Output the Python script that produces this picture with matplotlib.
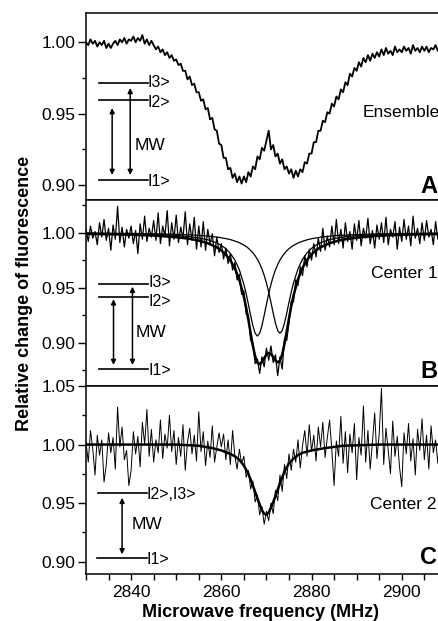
"""ODMR spectra of the ensemble and of two single centres (three stacked panels)."""

import matplotlib

matplotlib.use("Agg")
import matplotlib.pyplot as plt
import numpy as np
from matplotlib.ticker import FixedLocator, MultipleLocator

plt.rcParams["font.family"] = ["Liberation Sans", "DejaVu Sans"]

FREQ_START = 2830.0   # MHz, first sample of the traces
FREQ_STEP = 0.5       # MHz between samples

# measured traces, one row = 5 MHz (10 samples)
ensemble = [
    1.000, 0.998, 1.002, 0.999, 1.001, 0.997, 1.000, 0.998, 1.001, 0.996,
    0.999, 0.996, 0.999, 1.001, 0.998, 1.002, 1.000, 1.003, 0.999, 1.002,
    1.001, 1.004, 1.000, 1.003, 1.001, 1.005, 0.999, 1.002, 0.998, 1.001,
    0.998, 0.995, 0.997, 0.993, 0.995, 0.991, 0.993, 0.989, 0.991, 0.987,
    0.988, 0.984, 0.985, 0.980, 0.980, 0.974, 0.976, 0.970, 0.971, 0.965,
    0.965, 0.959, 0.960, 0.953, 0.954, 0.946, 0.947, 0.939, 0.938, 0.929,
    0.928, 0.919, 0.919, 0.911, 0.912, 0.905, 0.908, 0.902, 0.906, 0.901,
    0.906, 0.902, 0.909, 0.906, 0.913, 0.911, 0.920, 0.918, 0.926, 0.924,
    0.931, 0.938, 0.925, 0.928, 0.920, 0.922, 0.915, 0.918, 0.911, 0.913,
    0.908, 0.911, 0.905, 0.910, 0.906, 0.911, 0.909, 0.916, 0.915, 0.922,
    0.922, 0.930, 0.930, 0.938, 0.938, 0.945, 0.944, 0.951, 0.950, 0.957,
    0.955, 0.962, 0.960, 0.967, 0.965, 0.972, 0.970, 0.978, 0.976, 0.982,
    0.980, 0.986, 0.983, 0.989, 0.986, 0.991, 0.987, 0.992, 0.989, 0.993,
    0.990, 0.995, 0.991, 0.996, 0.992, 0.994, 0.991, 0.997, 0.993, 0.995,
    0.993, 0.997, 0.994, 0.996, 0.992, 0.998, 0.994, 0.996, 0.993, 0.997,
    0.994, 0.997, 0.993, 0.996, 0.995, 0.998, 0.994, 0.996, 0.993, 0.996,
]

center1 = [
    1.003, 0.992, 1.006, 0.995, 1.001, 0.989, 1.009, 0.996, 1.012, 0.993,
    1.004, 0.984, 1.007, 0.994, 1.024, 0.991, 1.005, 0.987, 1.003, 0.995,
    1.006, 0.990, 1.002, 0.981, 1.008, 0.994, 1.015, 0.992, 1.004, 0.996,
    1.011, 0.993, 1.018, 0.990, 1.006, 0.997, 1.020, 0.988, 1.009, 0.994,
    1.016, 0.991, 1.005, 0.995, 1.019, 0.989, 1.008, 0.993, 1.014, 0.985,
    1.006, 0.987, 1.010, 0.984, 1.003, 0.990, 0.999, 0.979, 0.996, 0.982,
    0.990, 0.976, 0.986, 0.972, 0.981, 0.966, 0.973, 0.957, 0.962, 0.944,
    0.947, 0.926, 0.925, 0.902, 0.899, 0.881, 0.885, 0.872, 0.887, 0.878,
    0.895, 0.884, 0.897, 0.882, 0.889, 0.870, 0.887, 0.876, 0.904, 0.902,
    0.918, 0.938, 0.937, 0.957, 0.952, 0.969, 0.961, 0.979, 0.969, 0.985,
    0.975, 0.990, 0.978, 0.995, 0.983, 1.004, 0.984, 0.997, 0.987, 1.006,
    0.989, 1.012, 0.990, 1.003, 0.986, 1.009, 0.992, 1.001, 0.985, 1.008,
    0.993, 1.011, 0.988, 1.004, 0.995, 1.013, 0.990, 1.002, 0.986, 1.007,
    0.994, 1.009, 0.991, 1.014, 0.989, 1.003, 0.996, 1.010, 0.985, 1.005,
    0.992, 1.012, 0.994, 1.006, 0.988, 1.015, 0.995, 1.004, 0.990, 1.009,
    0.993, 1.011, 0.996, 1.003, 0.989, 1.010, 0.994, 1.006, 0.991, 1.002,
]

center2 = [
    1.002, 0.985, 1.012, 0.996, 0.974, 1.008, 0.991, 1.004, 0.968, 0.983,
    1.010, 0.993, 1.006, 0.979, 1.032, 0.998, 1.015, 0.987, 0.995, 0.965,
    0.978, 1.011, 0.992, 1.007, 0.981, 1.019, 1.000, 1.030, 0.990, 1.013,
    0.985, 1.004, 0.993, 1.021, 0.988, 1.009, 0.997, 1.025, 0.994, 1.012,
    0.983, 1.006, 0.990, 1.017, 0.978, 1.002, 1.014, 0.992, 1.008, 0.986,
    1.028, 0.994, 1.011, 0.982, 1.003, 0.989, 1.016, 0.985, 0.998, 1.010,
    0.998, 1.009, 0.987, 1.004, 0.983, 1.012, 0.990, 0.979, 0.996, 0.984,
    0.990, 0.972, 0.978, 0.962, 0.969, 0.951, 0.957, 0.940, 0.947, 0.932,
    0.943, 0.935, 0.950, 0.941, 0.961, 0.952, 0.974, 0.960, 0.983, 0.971,
    0.992, 0.978, 0.996, 0.985, 1.004, 0.980, 0.999, 1.012, 0.990, 1.017,
    0.994, 1.008, 0.986, 1.015, 0.998, 1.019, 0.989, 1.006, 1.021, 0.995,
    0.965, 1.003, 0.990, 1.024, 0.984, 1.011, 0.976, 1.009, 0.993, 1.018,
    0.970, 1.006, 0.991, 1.033, 0.985, 1.012, 0.979, 1.002, 1.027, 0.988,
    1.009, 1.048, 0.983, 1.014, 0.995, 0.975, 1.020, 0.990, 1.007, 0.981,
    0.964, 1.010, 0.992, 1.018, 0.986, 1.005, 0.974, 1.013, 0.995, 1.022,
    0.987, 1.008, 0.979, 1.016, 0.993, 1.004, 0.984, 1.011, 0.996, 1.002,
]

# fitted curves
fit_b_freq = [
    2830, 2840, 2845, 2850, 2853, 2855, 2857, 2859, 2860, 2861,
    2862, 2863, 2864, 2865, 2865.5, 2866, 2866.5, 2867, 2867.5, 2868,
    2868.5, 2869, 2869.5, 2870, 2870.5, 2871, 2871.5, 2872, 2872.5, 2873,
    2873.5, 2874, 2874.5, 2875, 2875.5, 2876, 2877, 2878, 2879, 2880,
    2881, 2882, 2884, 2886, 2888, 2891, 2895, 2900, 2905, 2910,
]
fit_b_low = [
    0.9994, 0.9989, 0.9984, 0.9975, 0.9964, 0.9952, 0.9935, 0.9906, 0.9884, 0.9854,
    0.9812, 0.9751, 0.9662, 0.9530, 0.9445, 0.9349, 0.9248, 0.9154, 0.9085, 0.9060,
    0.9085, 0.9154, 0.9248, 0.9349, 0.9445, 0.9530, 0.9602, 0.9662, 0.9711, 0.9751,
    0.9784, 0.9812, 0.9835, 0.9854, 0.9870, 0.9884, 0.9906, 0.9922, 0.9935, 0.9945,
    0.9952, 0.9959, 0.9968, 0.9975, 0.9979, 0.9984, 0.9989, 0.9992, 0.9994, 0.9995,
]
fit_b_high = [
    0.9996, 0.9993, 0.9990, 0.9985, 0.9980, 0.9975, 0.9969, 0.9960, 0.9954, 0.9946,
    0.9937, 0.9924, 0.9909, 0.9887, 0.9874, 0.9858, 0.9839, 0.9817, 0.9790, 0.9758,
    0.9718, 0.9671, 0.9612, 0.9543, 0.9460, 0.9367, 0.9268, 0.9177, 0.9110, 0.9085,
    0.9110, 0.9177, 0.9268, 0.9367, 0.9460, 0.9543, 0.9671, 0.9758, 0.9817, 0.9858,
    0.9887, 0.9909, 0.9937, 0.9954, 0.9965, 0.9975, 0.9983, 0.9989, 0.9992, 0.9994,
]
fit_b_sum = [
    0.9990, 0.9982, 0.9974, 0.9959, 0.9944, 0.9928, 0.9904, 0.9866, 0.9838, 0.9800,
    0.9749, 0.9676, 0.9570, 0.9417, 0.9319, 0.9207, 0.9087, 0.8971, 0.8876, 0.8818,
    0.8804, 0.8825, 0.8861, 0.8892, 0.8906, 0.8897, 0.8870, 0.8838, 0.8821, 0.8836,
    0.8894, 0.8989, 0.9103, 0.9221, 0.9331, 0.9427, 0.9577, 0.9680, 0.9752, 0.9803,
    0.9840, 0.9867, 0.9905, 0.9928, 0.9944, 0.9959, 0.9972, 0.9981, 0.9986, 0.9989,
]

fit_c_freq = [
    2830, 2850, 2855, 2858, 2860, 2862, 2863, 2864, 2865, 2866,
    2867, 2868, 2869, 2869.5, 2870, 2870.5, 2871, 2872, 2873, 2874,
    2875, 2876, 2877, 2878, 2880, 2883, 2887, 2895, 2910,
]
fit_c = [
    1.000, 1.000, 0.999, 0.997, 0.995, 0.992, 0.990, 0.987, 0.982, 0.975,
    0.965, 0.954, 0.944, 0.941, 0.940, 0.942, 0.946, 0.956, 0.967, 0.977,
    0.984, 0.988, 0.991, 0.993, 0.995, 0.997, 0.999, 1.000, 1.000,
]

y_ticks = [0.90, 0.95, 1.00, 1.05]
x_ticks = [2840, 2860, 2880, 2900]

FS = 12.5


def draw_levels(ax, levels, arrows, mw_xy):
    """Energy level sketch: horizontal levels, double arrows, 'MW' tag."""
    for y, x0, x1, label, dy in levels:
        ax.plot([x0, x1], [y, y], color="k", lw=1.2)
        ax.annotate(label, (x1, y), xytext=(0, -4.2 + dy), textcoords="offset points",
                    fontsize=11.5, ha="left", va="baseline")
    for x, y0, y1 in arrows:
        ax.annotate("", xy=(x, y1), xytext=(x, y0),
                    arrowprops=dict(arrowstyle="<|-|>", color="k", lw=1.1,
                                    mutation_scale=7, shrinkA=0, shrinkB=0))
    ax.text(mw_xy[0], mw_xy[1], "MW", fontsize=FS, ha="left", va="baseline")


def style(ax, ylim, bottom):
    ax.set_xlim(2830, 2908.7)
    ax.set_ylim(*ylim)
    ax.yaxis.set_major_locator(FixedLocator(y_ticks))
    ax.yaxis.set_minor_locator(MultipleLocator(0.025))
    ax.set_yticklabels([f"{t:.2f}" for t in y_ticks])
    ax.tick_params(axis="y", which="major", direction="out", length=6, width=1,
                   pad=1.5, labelsize=FS)
    ax.tick_params(axis="y", which="minor", direction="out", length=3, width=1)
    if bottom:
        ax.xaxis.set_major_locator(FixedLocator(x_ticks))
        ax.xaxis.set_minor_locator(MultipleLocator(5))
        ax.tick_params(axis="x", which="both", direction="out", length=4, width=1,
                       pad=4, labelsize=FS)
    else:
        ax.tick_params(axis="x", which="both", bottom=False, labelbottom=False)
    for s in ax.spines.values():
        s.set_linewidth(1.1)


def main():
    freq = FREQ_START + FREQ_STEP * np.arange(len(ensemble))

    fig = plt.figure(figsize=(4.39, 6.21), dpi=100)
    left, width = 86 / 439, 355 / 439
    ax_a = fig.add_axes([left, 1 - 200 / 621, width, 187 / 621])
    ax_b = fig.add_axes([left, 1 - 386 / 621, width, 186 / 621])
    ax_c = fig.add_axes([left, 1 - 574 / 621, width, 188 / 621])

    # A: ensemble
    ax_a.plot(freq, ensemble, color="k", lw=1.3)
    style(ax_a, (0.8895, 1.0205), bottom=False)
    draw_levels(ax_a,
                [(0.9717, 2832.9, 2843.7, "I3>", 1.0),
                 (0.9595, 2832.9, 2843.7, "I2>", -1.0),
                 (0.9034, 2832.9, 2843.7, "I1>", 0.0)],
                [(2835.8, 0.9539, 0.9070), (2839.8, 0.9680, 0.9070)],
                (2840.7, 0.9245))
    ax_a.text(2891.4, 0.9478, "Ensemble", fontsize=FS, ha="left", va="baseline")
    ax_a.text(2904.1, 0.8941, "A", fontsize=17, fontweight="bold",
              ha="left", va="baseline")

    # B: center 1 with two-line fit
    ax_b.plot(freq, center1, color="k", lw=0.9)
    ax_b.plot(fit_b_freq, fit_b_low, color="k", lw=0.9)
    ax_b.plot(fit_b_freq, fit_b_high, color="k", lw=0.9)
    ax_b.plot(fit_b_freq, fit_b_sum, color="k", lw=1.8)
    style(ax_b, (0.8606, 1.0297), bottom=False)
    draw_levels(ax_b,
                [(0.9531, 2832.9, 2843.8, "I3>", 2.0),
                 (0.9418, 2832.9, 2843.8, "I2>", -2.5),
                 (0.8761, 2832.9, 2843.8, "I1>", 0.0)],
                [(2836.1, 0.9395, 0.8797), (2840.3, 0.9509, 0.8797)],
                (2841.0, 0.9049))
    ax_b.text(2893.2, 0.9585, "Center 1", fontsize=FS, ha="left", va="baseline")
    ax_b.text(2904.1, 0.8676, "B", fontsize=17, fontweight="bold",
              ha="left", va="baseline")

    # C: center 2 with single-line fit
    ax_c.plot(freq, center2, color="k", lw=0.7)
    ax_c.plot(fit_c_freq, fit_c, color="k", lw=1.8)
    style(ax_c, (0.8895, 1.05), bottom=True)
    draw_levels(ax_c,
                [(0.9589, 2832.7, 2843.5, "I2>,I3>", 0.0),
                 (0.9029, 2832.4, 2843.5, "I1>", 0.0)],
                [(2838.0, 0.9546, 0.9063)],
                (2840.1, 0.9276))
    ax_c.text(2893.0, 0.9446, "Center 2", fontsize=FS, ha="left", va="baseline")
    ax_c.text(2904.1, 0.8978, "C", fontsize=17, fontweight="bold",
              ha="left", va="baseline")

    fig.text(261 / 439, 1 - 617 / 621, "Microwave frequency (MHz)", fontsize=13,
             fontweight="bold", ha="center", va="baseline")
    fig.text(25 / 439, 1 - 293.5 / 621, "Relative change of fluorescence",
             fontsize=13, fontweight="bold", rotation=90, ha="center", va="center")

    fig.savefig("out.png", dpi=100)


if __name__ == "__main__":
    main()
